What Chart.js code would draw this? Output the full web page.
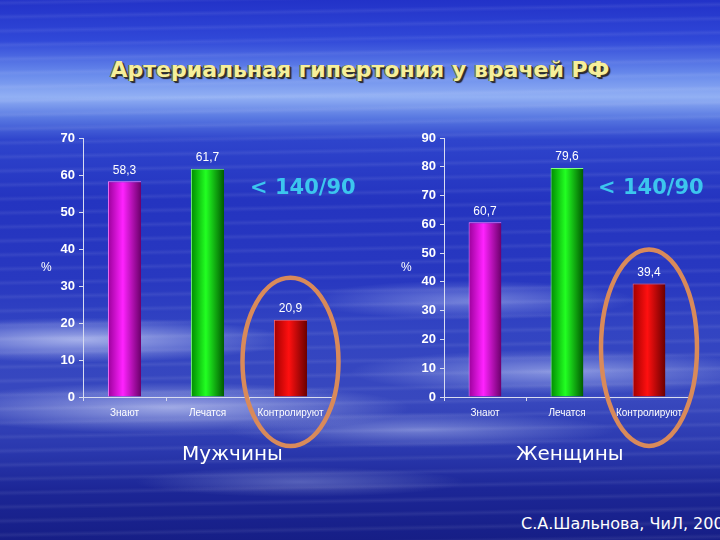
<!DOCTYPE html>
<html>
<head>
<meta charset="utf-8">
<script src="https://cdn.jsdelivr.net/npm/chart.js@4"></script>
<style>
  html, body { margin: 0; padding: 0; }
  body {
    width: 720px; height: 540px; position: relative; overflow: hidden;
    font-family: 'Liberation Sans', Arial, sans-serif;
    background:
      repeating-linear-gradient(179deg, rgba(255,255,255,0) 0px, rgba(255,255,255,0.07) 3px, rgba(255,255,255,0) 6px, rgba(255,255,255,0) 14px),
      radial-gradient(ellipse 280px 30px at 80px 340px, rgba(225,232,255,0.65), rgba(225,232,255,0) 75%),
      radial-gradient(ellipse 320px 34px at 170px 408px, rgba(225,232,255,0.6), rgba(225,232,255,0) 75%),
      radial-gradient(ellipse 220px 26px at 470px 300px, rgba(215,225,255,0.4), rgba(215,225,255,0) 75%),
      radial-gradient(ellipse 280px 30px at 560px 372px, rgba(215,225,255,0.5), rgba(215,225,255,0) 75%),
      radial-gradient(ellipse 260px 24px at 420px 430px, rgba(215,225,255,0.4), rgba(215,225,255,0) 75%),
      radial-gradient(ellipse 220px 20px at 300px 482px, rgba(215,225,255,0.3), rgba(215,225,255,0) 75%),
      linear-gradient(180deg, #2232c8 0px, #3048d8 40px, #6a8cec 75px, #92b0f4 97px, #5a7ae2 117px,
        #2e44cc 140px, #2434c0 200px, #2838c0 280px, #3244c2 330px, #3848be 400px, #2a38ae 450px,
        #1c2696 490px, #161e86 540px);
  }
  .box { position: absolute; }
  #title {
    left: 0; width: 720px; top: 57px; text-align: center;
    font: bold 22px 'DejaVu Sans', sans-serif; color: #f6ef9a;
    text-shadow: 1px 1px 0 #3a3a2a, 2px 2px 1px #202030, -1px 0 0 #6a6a40;
  }
  .bp { font: bold 21px 'DejaVu Sans', sans-serif; color: #3cc6ee; }
  .sex { font: 20px 'DejaVu Sans', sans-serif; color: #fff; }
  .pct { font: 12px 'Liberation Sans', sans-serif; color: #fff; }
  #src { font: 16px 'DejaVu Sans', sans-serif; color: #fff; white-space: nowrap; }
</style>
</head>
<body>
<div id="title" class="box">Артериальная гипертония у врачей РФ</div>
<div class="box" style="left:30px; top:120px; width:315px; height:350px;"><canvas id="men"></canvas></div>
<div class="box" style="left:390px; top:120px; width:320px; height:350px;"><canvas id="women"></canvas></div>
<div class="box bp" style="left:250px; top:175px;">&lt; 140/90</div>
<div class="box bp" style="left:598px; top:175px;">&lt; 140/90</div>
<div class="box pct" style="left:41px; top:260px;">%</div>
<div class="box pct" style="left:401px; top:260px;">%</div>
<div class="box sex" style="left:182px; top:441px;">Мужчины</div>
<div class="box sex" style="left:516px; top:441px;">Женщины</div>
<div id="src" class="box" style="left:521px; top:514px;">С.А.Шальнова, ЧиЛ, 2007</div>
<script>
const categories = ['Знают', 'Лечатся', 'Контролируют'];
const menValues = [58.3, 61.7, 20.9];
const womenValues = [60.7, 79.6, 39.4];
const menMax = 70;
const womenMax = 90;
const yStep = 10;

// left edge / centre / right edge of each bar
const barStops = [
  ['#9a009a', '#ff22ff', '#6a006a'],
  ['#008a00', '#22ff22', '#005a00'],
  ['#a00000', '#ff1010', '#6a0000']
];
const barEdge = ['#ff80ff', '#80ff80', '#ff6060'];

function barFill(ctx) {
  const chart = ctx.chart;
  const x = chart.scales.x;
  const s = barStops[ctx.dataIndex];
  if (!chart.chartArea || !x) return s[1];
  const c = x.getPixelForValue(ctx.dataIndex);
  const w = (x.width / categories.length) * 0.4;
  const g = chart.ctx.createLinearGradient(c - w / 2, 0, c + w / 2, 0);
  g.addColorStop(0, s[0]);
  g.addColorStop(0.45, s[1]);
  g.addColorStop(1, s[2]);
  return g;
}

const valueLabels = {
  id: 'valueLabels',
  afterDatasetsDraw(chart) {
    const ctx = chart.ctx;
    const data = chart.data.datasets[0].data;
    ctx.save();
    ctx.fillStyle = '#fff';
    ctx.font = '12px "Liberation Sans", Arial, sans-serif';
    ctx.textAlign = 'center';
    ctx.textBaseline = 'bottom';
    chart.getDatasetMeta(0).data.forEach((bar, i) => {
      ctx.fillText(String(data[i]).replace('.', ','), bar.x, bar.y - 5);
    });
    ctx.restore();
  }
};

// orange ring round the "controlled" bar
const ring = {
  id: 'ring',
  afterDraw(chart, args, opts) {
    const bar = chart.getDatasetMeta(0).data[2];
    const top = bar.y - opts.above;
    const bottom = chart.chartArea.bottom + 49;
    const ctx = chart.ctx;
    ctx.save();
    ctx.strokeStyle = '#d98a5a';
    ctx.lineWidth = 4.5;
    ctx.beginPath();
    ctx.ellipse(bar.x, (top + bottom) / 2, 48, (bottom - top) / 2, 0, 0, Math.PI * 2);
    ctx.stroke();
    ctx.restore();
  }
};

function makeChart(id, values, max, axisWidth, padRight, above) {
  return new Chart(document.getElementById(id), {
    type: 'bar',
    data: {
      labels: categories,
      datasets: [{
        data: values,
        backgroundColor: barFill,
        borderColor: barEdge,
        borderWidth: { top: 1, left: 1, right: 0, bottom: 0 },
        categoryPercentage: 0.4,
        barPercentage: 1
      }]
    },
    options: {
      responsive: true,
      maintainAspectRatio: false,
      animation: false,
      layout: { padding: { top: 18, right: padRight, left: 0, bottom: 0 } },
      plugins: { legend: { display: false }, tooltip: { enabled: false }, ring: { above: above } },
      scales: {
        x: {
          afterFit(scale) { scale.height = 73; },
          grid: { display: true, drawOnChartArea: false, color: '#d8dcf0', tickLength: 4, offset: true },
          border: { color: '#d8dcf0', width: 1 },
          ticks: { color: '#fff', font: { family: '"Liberation Sans Narrow", "Liberation Sans", sans-serif', size: 10 }, padding: 6, maxRotation: 0, autoSkip: false }
        },
        y: {
          min: 0, max: max,
          afterFit(scale) { scale.width = axisWidth; },
          grid: { display: true, drawOnChartArea: false, color: '#d8dcf0', tickLength: 4 },
          border: { color: '#d8dcf0', width: 1 },
          ticks: { stepSize: yStep, color: '#fff', font: { family: '"Liberation Sans", Arial, sans-serif', size: 13, weight: 'bold' }, padding: 4 }
        }
      }
    },
    plugins: [valueLabels, ring]
  });
}

makeChart('men', menValues, menMax, 53, 13, 42);
makeChart('women', womenValues, womenMax, 54, 20, 34);
</script>
</body>
</html>
